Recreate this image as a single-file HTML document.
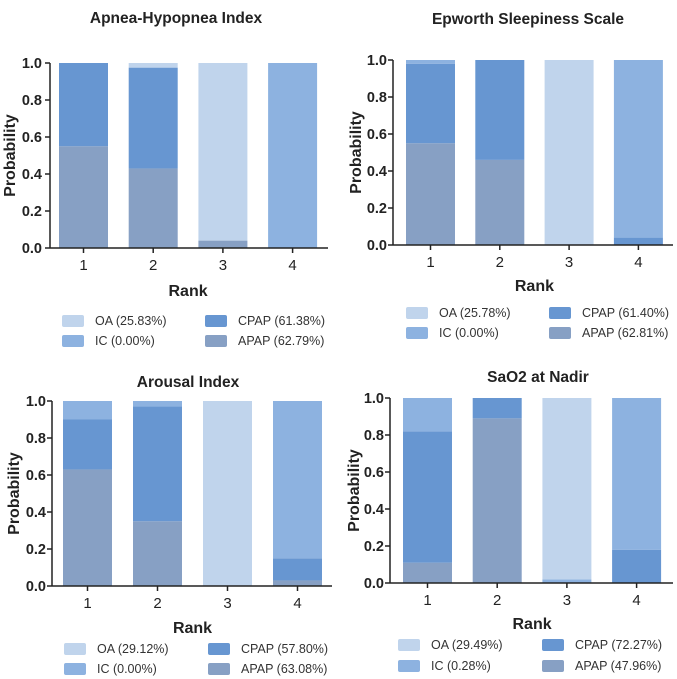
<!DOCTYPE html>
<html><head><meta charset="utf-8"><style>
html,body{margin:0;padding:0;background:#fff;}
svg{display:block;font-family:"Liberation Sans",Arial,sans-serif;}
</style></head><body>
<svg id="c" width="677" height="679" viewBox="0 0 677 679"></svg>
<script>
const ranks = ["1","2","3","4"];
const yTicks = [0,0.2,0.4,0.6,0.8,1.0];
const seriesNames = ["APAP","CPAP","IC","OA"];
const seriesColors = ["#87a0c4","#6796d1","#8db2e0","#c0d4ec"];
const titles = ["Apnea-Hypopnea Index","Epworth Sleepiness Scale","Arousal Index","SaO2 at Nadir"];
// values per panel: [APAP, CPAP, IC, OA] per rank
const ahiAPAP=[0.55,0.43,0.04,0], ahiCPAP=[0.45,0.545,0,0], ahiIC=[0,0,0,1.0], ahiOA=[0,0.025,0.96,0];
const essAPAP=[0.55,0.46,0,0], essCPAP=[0.43,0.54,0,0.04], essIC=[0.02,0,0,0.96], essOA=[0,0,1.0,0];
const aiAPAP=[0.63,0.35,0,0.03], aiCPAP=[0.27,0.62,0,0.12], aiIC=[0.10,0.03,0,0.85], aiOA=[0,0,1.0,0];
const saAPAP=[0.11,0.89,0,0], saCPAP=[0.71,0.11,0,0.18], saIC=[0.18,0,0.02,0.82], saOA=[0,0,0.98,0];
const legendAHI=["OA (25.83%)","IC (0.00%)","CPAP (61.38%)","APAP (62.79%)"];
const legendESS=["OA (25.78%)","IC (0.00%)","CPAP (61.40%)","APAP (62.81%)"];
const legendAI=["OA (29.12%)","IC (0.00%)","CPAP (57.80%)","APAP (63.08%)"];
const legendSA=["OA (29.49%)","IC (0.28%)","CPAP (72.27%)","APAP (47.96%)"];

const panels=[
 {ax:50,top:63,bot:248,b0:59,step:69.7,bw:49,xend:328,ty:23,tc:176,ry:296,lr:[321,341],lx:[62,205],yo:35,tf:14.5,tg:8,data:[ahiAPAP,ahiCPAP,ahiIC,ahiOA],leg:legendAHI,name:"ahi"},
 {ax:393,top:60,bot:245,b0:406,step:69.3,bw:49,xend:673,ty:24,tc:528,ry:291,lr:[313,333],lx:[406,549],yo:32,tf:14.5,tg:6,data:[essAPAP,essCPAP,essIC,essOA],leg:legendESS,name:"ess"},
 {ax:52,top:401,bot:586,b0:63,step:70,bw:49,xend:332,ty:387,tc:188,ry:633,lr:[649,669],lx:[64,208],yo:33,tf:14.5,tg:6,data:[aiAPAP,aiCPAP,aiIC,aiOA],leg:legendAI,name:"arousal"},
 {ax:390,top:398,bot:583,b0:403,step:69.7,bw:49,xend:673,ty:382,tc:538,ry:629,lr:[645,666],lx:[398,542],yo:31,tf:14.5,tg:6,data:[saAPAP,saCPAP,saIC,saOA],leg:legendSA,name:"sao2"}
];
const svg=document.getElementById('c');
const NS="http://www.w3.org/2000/svg";
function mk(t,a,p){const e=document.createElementNS(NS,t);for(const k in a)e.setAttribute(k,a[k]);(p||svg).appendChild(e);return e;}
panels.forEach((P,pi)=>{
 const g=mk('g',{});
 
 
 const y=v=>P.bot-v*(P.bot-P.top);
 const x=i=>P.b0+i*P.step;
 ranks.forEach((r,i)=>{
  let acc=0;
  for(let s=0;s<4;s++){
   const v=P.data[s][i]; if(v<=0) continue;
   const rc=mk('rect',{x:x(i),y:y(acc+v),width:P.bw,height:y(acc)-y(acc+v),fill:seriesColors[s]},g);
   
   
   acc+=v;
  }
  const lt=mk('text',{x:x(i)+P.bw/2,y:P.bot+22,'font-size':15,'text-anchor':'middle',fill:'#222'},g);
  lt.textContent=r;
  
  
  mk('line',{x1:x(i)+P.bw/2,x2:x(i)+P.bw/2,y1:P.bot,y2:P.bot+5,stroke:'#222','stroke-width':1.5},g);
 });
 yTicks.forEach(t=>{
  mk('line',{x1:P.ax-5,x2:P.ax,y1:y(t),y2:y(t),stroke:'#222','stroke-width':1.5},g);
  const tt=mk('text',{x:P.ax-P.tg,y:y(t)+5,'font-size':P.tf,'font-weight':'bold','text-anchor':'end',fill:'#222'},g);
  tt.textContent=t.toFixed(1);
  
  
 });
 mk('line',{x1:P.ax,x2:P.ax,y1:P.top,y2:P.bot,stroke:'#222','stroke-width':1.5},g);
 mk('line',{x1:P.ax,x2:P.xend,y1:P.bot,y2:P.bot,stroke:'#222','stroke-width':1.5},g);
 const ti=mk('text',{x:P.tc,y:P.ty,'font-size':15.5,'font-weight':'bold','text-anchor':'middle',fill:'#222'},g);
 ti.textContent=titles[pi];
 
 
 const yc=(P.top+P.bot)/2, xt=P.ax-P.yo;
 const ry=mk('text',{x:xt,y:yc,'font-size':16,'font-weight':'bold','text-anchor':'middle',fill:'#222',transform:`rotate(-90 ${xt} ${yc})`},g);
 ry.textContent="Probability";
 
 
 const rx=mk('text',{x:(P.b0+x(3)+P.bw)/2,y:P.ry,'font-size':16,'font-weight':'bold','text-anchor':'middle',fill:'#222'},g);
 rx.textContent="Rank";
 
 
 const order=[3,2,1,0];
 order.forEach((s,k)=>{
  const col=k<2?0:1,row=k%2;
  const lx=P.lx[col],ly=P.lr[row];
  const sw=mk('rect',{x:lx,y:ly-6,width:22,height:12,rx:2,fill:seriesColors[s]},g);
  
  
  const lt=mk('text',{x:lx+33,y:ly+4,'font-size':12.5,fill:'#333'},g);
  lt.textContent=P.leg[k];
  
  
 });
});
</script>
</body></html>
